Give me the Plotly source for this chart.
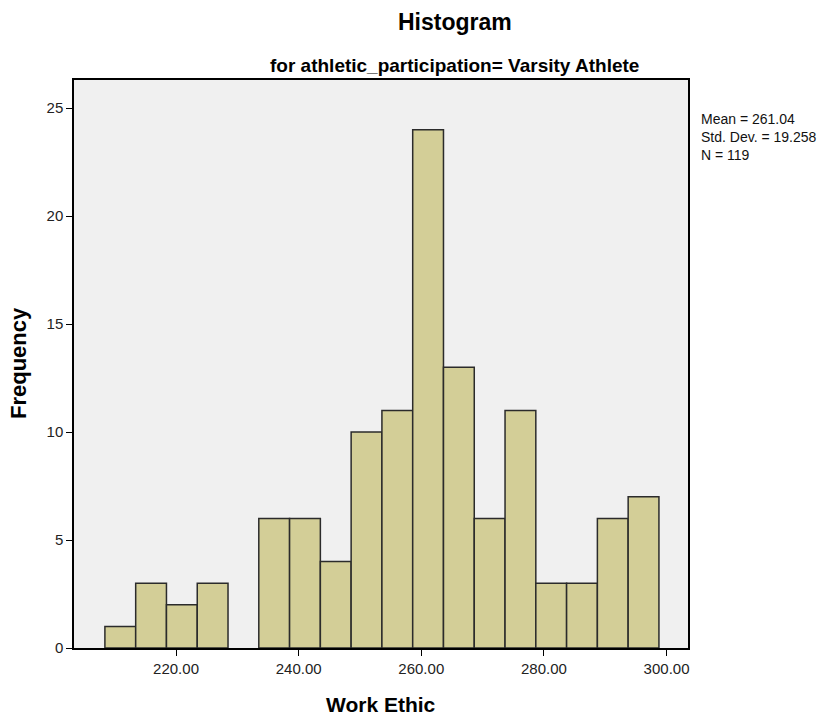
import plotly.graph_objects as go

# Data
bin_start = 208.4
bin_width = 5.02
counts = [1, 3, 2, 3, 0, 6, 6, 4, 10, 11, 24, 13, 6, 11, 3, 3, 6, 7]
x_ticks = [220, 240, 260, 280, 300]
x_tick_labels = ["220.00", "240.00", "260.00", "280.00", "300.00"]
y_ticks = [0, 5, 10, 15, 20, 25]
stats_lines = ["Mean = 261.04", "Std. Dev. = 19.258", "N = 119"]

centers = [bin_start + bin_width * (i + 0.5) for i in range(len(counts))]
line_widths = [1.5 if c > 0 else 0 for c in counts]

FONT = "Liberation Sans, Arial, sans-serif"

# plot area in pixels: left 74, right 688, top 80, bottom 648
L, R, T, B = 74, 688, 80, 648
PW, PH = R - L, B - T

def px(x):
    return (x - L) / PW

def py(y):
    return (B - y) / PH

fig = go.Figure()
fig.add_trace(go.Bar(
    x=centers, y=counts, width=bin_width,
    marker=dict(color="#D3CE97", line=dict(color="#2b2b2b", width=line_widths)),
    hoverinfo="x+y",
))

annotations = [
    dict(text="<b>Histogram</b>", x=px(455), y=py(22), font=dict(size=23),
         xanchor="center", yanchor="middle"),
    dict(text="<b>for athletic_participation= Varsity Athlete</b>", x=px(454), y=py(66),
         font=dict(size=19), xanchor="center", yanchor="middle"),
    dict(text="<b>Work Ethic</b>", x=px(381), y=py(704), font=dict(size=21),
         xanchor="center", yanchor="middle"),
    dict(text="<b>Frequency</b>", x=px(19), y=py(363), font=dict(size=22),
         xanchor="center", yanchor="middle", textangle=-90),
    dict(text="<br>".join(stats_lines), x=px(699), y=py(109),
         font=dict(size=14, color="#111"), align="left",
         xanchor="left", yanchor="top"),
]
for a in annotations:
    a.update(xref="paper", yref="paper", showarrow=False)

fig.update_layout(
    width=837, height=717,
    margin=dict(l=L, r=837 - R, t=T, b=717 - B, autoexpand=False),
    paper_bgcolor="white",
    plot_bgcolor="#F0F0F0",
    showlegend=False,
    font=dict(family=FONT, color="#000000", size=13),
    xaxis=dict(
        range=[203.36, 303.5],
        tickvals=x_ticks, ticktext=x_tick_labels,
        ticks="outside", ticklen=6, tickcolor="#000", tickwidth=1,
        showline=True, linecolor="#000", linewidth=1.5, mirror=True,
        showgrid=False, zeroline=False, automargin=False,
        tickfont=dict(size=15, color="#222"),
    ),
    yaxis=dict(
        range=[0, 26.3],
        tickvals=y_ticks,
        ticks="outside", ticklen=6, tickcolor="#000", tickwidth=1,
        showline=True, linecolor="#000", linewidth=1.5, mirror=True,
        showgrid=False, zeroline=False, automargin=False,
        tickfont=dict(size=15, color="#222"),
    ),
    annotations=annotations,
)

fig.write_html("out.html", config={"displayModeBar": False},
               post_script="document.body.style.margin='0';document.body.style.overflow='hidden';")
